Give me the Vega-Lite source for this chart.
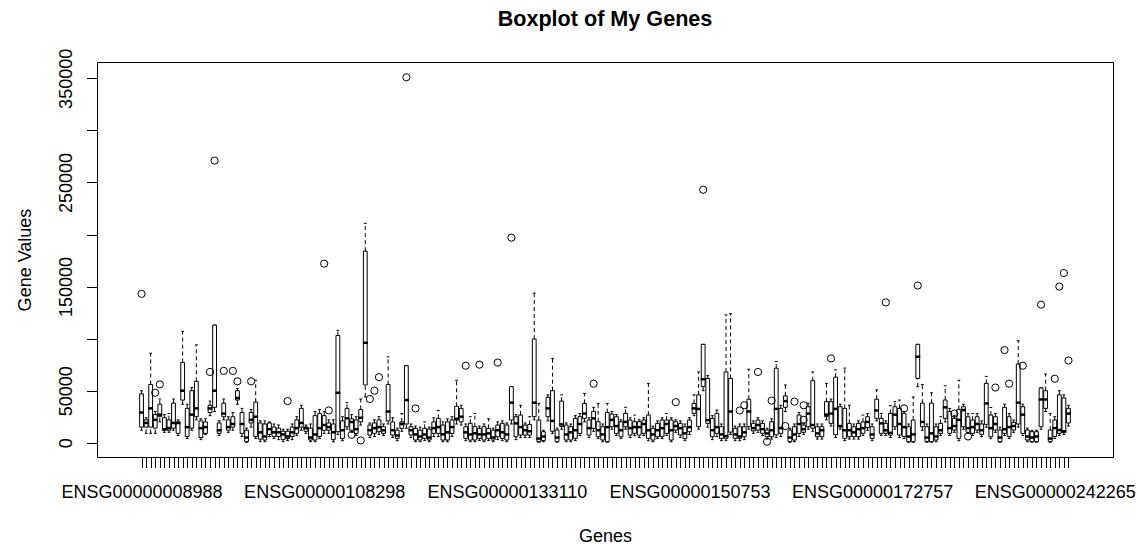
{
  "$schema": "https://vega.github.io/schema/vega-lite/v6.json",
  "width": 1016,
  "height": 395,
  "autosize": "none",
  "padding": {"left": 97, "top": 62, "right": 24, "bottom": 87},
  "background": "white",
  "title": {"text": "Boxplot of My Genes", "font": "Liberation Sans", "fontSize": 21.6, "fontWeight": "bold", "color": "black", "anchor": "middle", "frame": "group", "offset": 0, "dy": -1, "baseline": "alphabetic"},
  "config": {
    "view": {"stroke": "black", "strokeWidth": 1},
    "axis": {"grid": false, "domain": false, "tickColor": "black", "tickWidth": 1, "tickSize": 10.5, "labelFont": "Liberation Sans", "labelFontSize": 18, "labelColor": "black", "titleFont": "Liberation Sans", "titleFontSize": 18, "titleFontWeight": "normal", "titleColor": "black", "labelOverlap": false, "labelFlush": false, "labelBound": false}
  },
  "datasets": {
    "genes": [
      {"i":1,"gene":"ENSG00000008988","lo":12000,"q1":15000,"med":29000,"q3":47000,"hi":50000},
      {"i":2,"lo":9000,"q1":15000,"med":19000,"q3":22000,"hi":24000},
      {"i":3,"lo":9000,"q1":15000,"med":33000,"q3":56000,"hi":86000},
      {"i":4,"lo":9000,"q1":14000,"med":22000,"q3":27000,"hi":30000},
      {"i":5,"lo":20000,"q1":25000,"med":27000,"q3":37000,"hi":42000},
      {"i":6,"lo":10000,"q1":12000,"med":13000,"q3":24000,"hi":27000},
      {"i":7,"lo":10000,"q1":12000,"med":14000,"q3":22000,"hi":28000},
      {"i":8,"lo":12000,"q1":14000,"med":19000,"q3":38000,"hi":42000},
      {"i":9,"lo":7000,"q1":9000,"med":19000,"q3":20000,"hi":22000},
      {"i":10,"lo":37000,"q1":41000,"med":50000,"q3":77000,"hi":107000},
      {"i":11,"lo":4000,"q1":6000,"med":15000,"q3":33000,"hi":37000},
      {"i":12,"lo":12000,"q1":14000,"med":27000,"q3":50000,"hi":53000},
      {"i":13,"lo":22000,"q1":25000,"med":33000,"q3":59000,"hi":94000},
      {"i":14,"lo":3000,"q1":5000,"med":14000,"q3":21000,"hi":23000},
      {"i":15,"lo":8000,"q1":9000,"med":15000,"q3":20000,"hi":23000},
      {"i":16,"lo":26000,"q1":29000,"med":33000,"q3":36000,"hi":40000},
      {"i":17,"lo":30000,"q1":34000,"med":50000,"q3":113000,"hi":113000},
      {"i":18,"lo":7000,"q1":9000,"med":12000,"q3":19000,"hi":21000},
      {"i":19,"lo":22000,"q1":25000,"med":28000,"q3":38000,"hi":42000},
      {"i":20,"lo":10000,"q1":12000,"med":15000,"q3":22000,"hi":25000},
      {"i":21,"lo":12000,"q1":15000,"med":18000,"q3":25000,"hi":29000},
      {"i":22,"lo":37000,"q1":41000,"med":43000,"q3":50000,"hi":52000},
      {"i":23,"lo":6000,"q1":9000,"med":18000,"q3":29000,"hi":33000},
      {"i":24,"lo":500,"q1":1000,"med":5000,"q3":12000,"hi":14000},
      {"i":25,"lo":15000,"q1":19000,"med":22000,"q3":29000,"hi":32000},
      {"i":26,"lo":4000,"q1":6000,"med":25000,"q3":39000,"hi":60000},
      {"i":27,"lo":1000,"q1":3500,"med":10000,"q3":19000,"hi":21000},
      {"i":28,"lo":1000,"q1":2600,"med":6000,"q3":18000,"hi":21000},
      {"i":29,"lo":6000,"q1":8000,"med":13000,"q3":19000,"hi":20000},
      {"i":30,"lo":4000,"q1":6000,"med":10000,"q3":15000,"hi":18000},
      {"i":31,"lo":3000,"q1":6000,"med":10000,"q3":14000,"hi":17000},
      {"i":32,"lo":1000,"q1":3000,"med":8000,"q3":11000,"hi":13000},
      {"i":33,"lo":2000,"q1":4000,"med":6000,"q3":11000,"hi":13000},
      {"i":34,"lo":3000,"q1":6000,"med":10000,"q3":15000,"hi":18000},
      {"i":35,"lo":7000,"q1":9000,"med":14000,"q3":22000,"hi":25000},
      {"i":36,"lo":12000,"q1":15000,"med":19000,"q3":33000,"hi":36000},
      {"i":37,"lo":9000,"q1":11000,"med":14000,"q3":15000,"hi":17000},
      {"i":38,"lo":1000,"q1":2600,"med":5000,"q3":14000,"hi":18000},
      {"i":39,"lo":1000,"q1":2600,"med":8000,"q3":26000,"hi":30000},
      {"i":40,"lo":4000,"q1":6000,"med":14000,"q3":28000,"hi":32000},
      {"i":41,"gene":"ENSG00000108298","lo":9000,"q1":12000,"med":17000,"q3":26000,"hi":30000},
      {"i":42,"lo":9000,"q1":12000,"med":15000,"q3":19000,"hi":22000},
      {"i":43,"lo":1000,"q1":3000,"med":10000,"q3":18000,"hi":22000},
      {"i":44,"lo":8000,"q1":10600,"med":48000,"q3":103000,"hi":108000},
      {"i":45,"lo":2000,"q1":4000,"med":12000,"q3":21000,"hi":25000},
      {"i":46,"lo":13000,"q1":15400,"med":23500,"q3":33000,"hi":38500},
      {"i":47,"lo":10000,"q1":12000,"med":20000,"q3":23000,"hi":27000},
      {"i":48,"lo":7000,"q1":9000,"med":13000,"q3":22000,"hi":25000},
      {"i":49,"lo":17000,"q1":20000,"med":24000,"q3":32000,"hi":42000},
      {"i":50,"lo":44000,"q1":55500,"med":96000,"q3":184000,"hi":210700},
      {"i":51,"lo":5000,"q1":7400,"med":12000,"q3":17000,"hi":19000},
      {"i":52,"lo":6000,"q1":9000,"med":14000,"q3":19000,"hi":22000},
      {"i":53,"lo":8000,"q1":10600,"med":15000,"q3":22000,"hi":25000},
      {"i":54,"lo":7000,"q1":9000,"med":12000,"q3":15400,"hi":18000},
      {"i":55,"lo":18000,"q1":21000,"med":30000,"q3":56000,"hi":82500},
      {"i":56,"lo":5000,"q1":7400,"med":12000,"q3":20000,"hi":24000},
      {"i":57,"lo":2000,"q1":4200,"med":7000,"q3":12000,"hi":14000},
      {"i":58,"lo":11000,"q1":13800,"med":18000,"q3":20000,"hi":28000},
      {"i":59,"lo":14000,"q1":18000,"med":41000,"q3":74000,"hi":74000},
      {"i":60,"lo":5000,"q1":7400,"med":12000,"q3":15400,"hi":18000},
      {"i":61,"lo":1000,"q1":2600,"med":8000,"q3":13800,"hi":16000},
      {"i":62,"lo":1000,"q1":2600,"med":6000,"q3":12000,"hi":15000},
      {"i":63,"lo":2000,"q1":4200,"med":8000,"q3":13800,"hi":20000},
      {"i":64,"lo":1000,"q1":2600,"med":5000,"q3":13000,"hi":15000},
      {"i":65,"lo":6000,"q1":9000,"med":14000,"q3":20000,"hi":24000},
      {"i":66,"lo":6000,"q1":9000,"med":15000,"q3":23400,"hi":31000},
      {"i":67,"lo":1000,"q1":2600,"med":8000,"q3":17000,"hi":20000},
      {"i":68,"lo":1000,"q1":2600,"med":10000,"q3":20000,"hi":23000},
      {"i":69,"lo":6000,"q1":9000,"med":15000,"q3":22000,"hi":25000},
      {"i":70,"lo":18000,"q1":21800,"med":23000,"q3":35000,"hi":60000},
      {"i":71,"lo":17000,"q1":20000,"med":25000,"q3":33000,"hi":36000},
      {"i":72,"lo":2000,"q1":4200,"med":10000,"q3":15400,"hi":18000},
      {"i":73,"lo":1000,"q1":2600,"med":8000,"q3":18600,"hi":25000},
      {"i":74,"lo":1000,"q1":2600,"med":9000,"q3":15400,"hi":28000},
      {"i":75,"lo":2000,"q1":4200,"med":8000,"q3":13800,"hi":16000},
      {"i":76,"lo":1000,"q1":2600,"med":8000,"q3":15400,"hi":18000},
      {"i":77,"lo":2000,"q1":4200,"med":9000,"q3":13800,"hi":23000},
      {"i":78,"lo":1000,"q1":2600,"med":5000,"q3":12000,"hi":14000},
      {"i":79,"lo":3000,"q1":5800,"med":12000,"q3":17000,"hi":20000},
      {"i":80,"lo":2000,"q1":4200,"med":10000,"q3":18600,"hi":21000},
      {"i":81,"gene":"ENSG00000133110","lo":1000,"q1":2600,"med":8000,"q3":17000,"hi":19000},
      {"i":82,"lo":18000,"q1":21800,"med":38500,"q3":53800,"hi":53800},
      {"i":83,"lo":3000,"q1":5800,"med":18600,"q3":25000,"hi":27000},
      {"i":84,"lo":5000,"q1":7400,"med":15000,"q3":26600,"hi":36000},
      {"i":85,"lo":5000,"q1":7400,"med":12000,"q3":17000,"hi":19000},
      {"i":86,"lo":5000,"q1":7400,"med":11000,"q3":17600,"hi":25000},
      {"i":87,"lo":22000,"q1":25000,"med":38500,"q3":99600,"hi":143700},
      {"i":88,"lo":500,"q1":1000,"med":4000,"q3":21800,"hi":37800},
      {"i":89,"lo":1000,"q1":2000,"med":6000,"q3":10600,"hi":12000},
      {"i":90,"lo":21000,"q1":25000,"med":33000,"q3":43600,"hi":46000},
      {"i":91,"lo":9000,"q1":11000,"med":21000,"q3":50000,"hi":81000},
      {"i":92,"lo":500,"q1":1000,"med":5000,"q3":12200,"hi":14000},
      {"i":93,"lo":13000,"q1":15600,"med":17600,"q3":40000,"hi":46000},
      {"i":94,"lo":1000,"q1":2600,"med":8000,"q3":17000,"hi":19000},
      {"i":95,"lo":1000,"q1":2600,"med":10000,"q3":15400,"hi":18000},
      {"i":96,"lo":2000,"q1":4200,"med":12000,"q3":23400,"hi":26000},
      {"i":97,"lo":7000,"q1":9000,"med":18000,"q3":25000,"hi":28000},
      {"i":98,"lo":20000,"q1":23400,"med":28000,"q3":37800,"hi":47400},
      {"i":99,"lo":5000,"q1":7400,"med":14000,"q3":21800,"hi":24000},
      {"i":100,"lo":11000,"q1":13800,"med":23400,"q3":30000,"hi":34000},
      {"i":101,"lo":4000,"q1":5800,"med":12000,"q3":20200,"hi":37800},
      {"i":102,"lo":1000,"q1":2600,"med":8000,"q3":15400,"hi":18000},
      {"i":103,"lo":500,"q1":1000,"med":15000,"q3":29000,"hi":37800},
      {"i":104,"lo":13000,"q1":15400,"med":22000,"q3":27500,"hi":30000},
      {"i":105,"lo":7000,"q1":9000,"med":16000,"q3":25000,"hi":27000},
      {"i":106,"lo":4000,"q1":5800,"med":12000,"q3":20200,"hi":22000},
      {"i":107,"lo":13000,"q1":15400,"med":20000,"q3":28200,"hi":34000},
      {"i":108,"lo":5000,"q1":7400,"med":14000,"q3":21800,"hi":24000},
      {"i":109,"lo":7000,"q1":9000,"med":15000,"q3":20200,"hi":26500},
      {"i":110,"lo":5000,"q1":7400,"med":15000,"q3":20200,"hi":22000},
      {"i":111,"lo":7000,"q1":9000,"med":18000,"q3":21800,"hi":24000},
      {"i":112,"lo":2000,"q1":4200,"med":12000,"q3":26600,"hi":57000},
      {"i":113,"lo":1000,"q1":2600,"med":8000,"q3":13800,"hi":16000},
      {"i":114,"lo":4000,"q1":5800,"med":12000,"q3":18600,"hi":21000},
      {"i":115,"lo":4000,"q1":5800,"med":14000,"q3":21800,"hi":24000},
      {"i":116,"lo":7000,"q1":9000,"med":18000,"q3":21800,"hi":28000},
      {"i":117,"lo":1000,"q1":2600,"med":12000,"q3":21800,"hi":24000},
      {"i":118,"lo":10000,"q1":12200,"med":16000,"q3":20200,"hi":22000},
      {"i":119,"lo":5000,"q1":7400,"med":14000,"q3":18600,"hi":21000},
      {"i":120,"lo":2000,"q1":4000,"med":9000,"q3":15400,"hi":18000},
      {"i":121,"gene":"ENSG00000150753","lo":8000,"q1":10600,"med":15000,"q3":21800,"hi":24000},
      {"i":122,"lo":26000,"q1":28200,"med":33000,"q3":37800,"hi":46000},
      {"i":123,"lo":13000,"q1":15400,"med":32500,"q3":46000,"hi":68000},
      {"i":124,"lo":50000,"q1":54000,"med":61000,"q3":94500,"hi":94500},
      {"i":125,"lo":15000,"q1":18600,"med":21800,"q3":61800,"hi":64500},
      {"i":126,"lo":3000,"q1":5800,"med":12000,"q3":23400,"hi":26000},
      {"i":127,"lo":6000,"q1":9000,"med":15000,"q3":28200,"hi":31400},
      {"i":128,"lo":2000,"q1":4200,"med":8000,"q3":15400,"hi":18000},
      {"i":129,"lo":2000,"q1":4200,"med":6400,"q3":68000,"hi":122700},
      {"i":130,"lo":8000,"q1":10200,"med":30000,"q3":61800,"hi":124000},
      {"i":131,"lo":2000,"q1":4200,"med":8000,"q3":13800,"hi":16000},
      {"i":132,"lo":2000,"q1":4200,"med":6000,"q3":15400,"hi":18000},
      {"i":133,"lo":3000,"q1":5800,"med":10000,"q3":15400,"hi":18000},
      {"i":134,"lo":13000,"q1":15400,"med":30000,"q3":41800,"hi":70600},
      {"i":135,"lo":9000,"q1":11400,"med":14000,"q3":18600,"hi":21000},
      {"i":136,"lo":10000,"q1":12200,"med":17000,"q3":21800,"hi":24000},
      {"i":137,"lo":7000,"q1":9000,"med":13000,"q3":18600,"hi":21000},
      {"i":138,"lo":3500,"q1":5800,"med":9000,"q3":12200,"hi":14000},
      {"i":139,"lo":3500,"q1":5800,"med":12000,"q3":20200,"hi":23000},
      {"i":140,"lo":5000,"q1":7600,"med":32500,"q3":71600,"hi":78000},
      {"i":141,"lo":6000,"q1":9000,"med":14000,"q3":33000,"hi":36000},
      {"i":142,"lo":30000,"q1":34000,"med":40000,"q3":45000,"hi":55500},
      {"i":143,"lo":500,"q1":1000,"med":5000,"q3":12200,"hi":14000},
      {"i":144,"lo":1000,"q1":2600,"med":8000,"q3":15400,"hi":18000},
      {"i":145,"lo":6000,"q1":9000,"med":18000,"q3":26600,"hi":29000},
      {"i":146,"lo":8000,"q1":10000,"med":13000,"q3":17000,"hi":19000},
      {"i":147,"lo":13000,"q1":15400,"med":28000,"q3":34600,"hi":38000},
      {"i":148,"lo":11000,"q1":13900,"med":17000,"q3":59600,"hi":68000},
      {"i":149,"lo":3500,"q1":5800,"med":9000,"q3":15400,"hi":18000},
      {"i":150,"lo":3500,"q1":5800,"med":12000,"q3":15400,"hi":18000},
      {"i":151,"lo":22000,"q1":25000,"med":27000,"q3":39500,"hi":57000},
      {"i":152,"lo":16000,"q1":18600,"med":28000,"q3":39500,"hi":42000},
      {"i":153,"lo":5000,"q1":7600,"med":32500,"q3":63000,"hi":70000},
      {"i":154,"lo":13000,"q1":15400,"med":16000,"q3":34600,"hi":37000},
      {"i":155,"lo":2000,"q1":4200,"med":12000,"q3":33000,"hi":71700},
      {"i":156,"lo":3500,"q1":5800,"med":12000,"q3":18600,"hi":36000},
      {"i":157,"lo":3500,"q1":5800,"med":10000,"q3":15400,"hi":18000},
      {"i":158,"lo":3500,"q1":5800,"med":13000,"q3":18600,"hi":21000},
      {"i":159,"lo":7000,"q1":9000,"med":14000,"q3":20000,"hi":26600},
      {"i":160,"lo":12000,"q1":14500,"med":20000,"q3":25000,"hi":28000},
      {"i":161,"gene":"ENSG00000172757","lo":2000,"q1":4200,"med":8000,"q3":15400,"hi":18000},
      {"i":162,"lo":21000,"q1":23400,"med":31000,"q3":41800,"hi":50800},
      {"i":163,"lo":7000,"q1":9000,"med":18600,"q3":23400,"hi":28200},
      {"i":164,"lo":7000,"q1":9000,"med":12000,"q3":18600,"hi":21000},
      {"i":165,"lo":5000,"q1":7400,"med":9500,"q3":28200,"hi":35600},
      {"i":166,"lo":13000,"q1":15400,"med":27000,"q3":34600,"hi":39500},
      {"i":167,"lo":5000,"q1":7400,"med":18000,"q3":33000,"hi":41000},
      {"i":168,"lo":4000,"q1":6000,"med":15000,"q3":28200,"hi":30000},
      {"i":169,"lo":500,"q1":1000,"med":6000,"q3":15400,"hi":18000},
      {"i":170,"lo":500,"q1":1000,"med":8000,"q3":21800,"hi":44000},
      {"i":171,"lo":53800,"q1":61800,"med":82600,"q3":94500,"hi":94500},
      {"i":172,"lo":12000,"q1":15400,"med":20000,"q3":38000,"hi":56000},
      {"i":173,"lo":500,"q1":1000,"med":5000,"q3":15400,"hi":18000},
      {"i":174,"lo":500,"q1":1000,"med":9000,"q3":38000,"hi":48000},
      {"i":175,"lo":1000,"q1":2600,"med":6000,"q3":15400,"hi":18000},
      {"i":176,"lo":7000,"q1":9000,"med":12000,"q3":18600,"hi":25000},
      {"i":177,"lo":20000,"q1":23400,"med":34000,"q3":41000,"hi":54700},
      {"i":178,"lo":7000,"q1":9000,"med":14000,"q3":30000,"hi":33000},
      {"i":179,"lo":10000,"q1":12200,"med":16000,"q3":23400,"hi":26000},
      {"i":180,"lo":2000,"q1":4200,"med":22000,"q3":32000,"hi":60000},
      {"i":181,"lo":13000,"q1":15400,"med":31400,"q3":34600,"hi":37000},
      {"i":182,"lo":9000,"q1":10000,"med":14000,"q3":25000,"hi":28000},
      {"i":183,"lo":7000,"q1":9000,"med":15000,"q3":21800,"hi":28200},
      {"i":184,"lo":10000,"q1":12200,"med":18000,"q3":25000,"hi":28000},
      {"i":185,"lo":6000,"q1":8000,"med":12000,"q3":18000,"hi":21000},
      {"i":186,"lo":15000,"q1":17600,"med":37800,"q3":57000,"hi":63700},
      {"i":187,"lo":4000,"q1":5800,"med":14000,"q3":26600,"hi":33800},
      {"i":188,"lo":10000,"q1":12200,"med":18000,"q3":25000,"hi":28000},
      {"i":189,"lo":500,"q1":1000,"med":5000,"q3":12200,"hi":15000},
      {"i":190,"lo":7000,"q1":9000,"med":13000,"q3":34000,"hi":37000},
      {"i":191,"lo":4000,"q1":6000,"med":15000,"q3":25000,"hi":28000},
      {"i":192,"lo":10000,"q1":12200,"med":16000,"q3":19600,"hi":21800},
      {"i":193,"lo":15000,"q1":18000,"med":38500,"q3":75600,"hi":98000},
      {"i":194,"lo":7000,"q1":9000,"med":27000,"q3":34600,"hi":37000},
      {"i":195,"lo":1000,"q1":2600,"med":6000,"q3":12200,"hi":14000},
      {"i":196,"lo":500,"q1":1000,"med":5000,"q3":10600,"hi":12000},
      {"i":197,"lo":500,"q1":1000,"med":6000,"q3":10600,"hi":12000},
      {"i":198,"lo":13000,"q1":15400,"med":41600,"q3":52600,"hi":52600},
      {"i":199,"lo":30000,"q1":33000,"med":41600,"q3":50000,"hi":66000},
      {"i":200,"lo":500,"q1":1000,"med":4000,"q3":12200,"hi":28200},
      {"i":201,"gene":"ENSG00000242265","lo":4000,"q1":6000,"med":14000,"q3":21800,"hi":25000},
      {"i":202,"lo":7000,"q1":9000,"med":12200,"q3":46000,"hi":50000},
      {"i":203,"lo":8000,"q1":10000,"med":11000,"q3":43000,"hi":46000},
      {"i":204,"lo":16000,"q1":19000,"med":28000,"q3":33000,"hi":36000}
    ],
    "outliers": [
      {"i":1,"value":143000},{"i":4,"value":48000},{"i":5,"value":56000},{"i":16,"value":68000},
      {"i":17,"value":271000},{"i":19,"value":69000},{"i":21,"value":69000},{"i":22,"value":59000},
      {"i":25,"value":59000},{"i":33,"value":40000},{"i":41,"value":172000},{"i":42,"value":31000},
      {"i":47,"value":7600},{"i":49,"value":2200},{"i":51,"value":42000},{"i":52,"value":50000},
      {"i":53,"value":63000},{"i":59,"value":351000},{"i":61,"value":33000},{"i":72,"value":74000},
      {"i":75,"value":75000},{"i":79,"value":77000},{"i":82,"value":197000},{"i":100,"value":56700},
      {"i":118,"value":39000},{"i":124,"value":243000},{"i":132,"value":31000},{"i":133,"value":36000},
      {"i":136,"value":68000},{"i":138,"value":1000},{"i":139,"value":40500},{"i":142,"value":16000},
      {"i":144,"value":39500},{"i":146,"value":36000},{"i":146,"value":22000},{"i":152,"value":81000},
      {"i":164,"value":134800},{"i":168,"value":33000},{"i":171,"value":151000},{"i":179,"value":28000},
      {"i":182,"value":6000},{"i":188,"value":53000},{"i":190,"value":89000},{"i":191,"value":56700},
      {"i":194,"value":74000},{"i":198,"value":132600},{"i":201,"value":61500},{"i":202,"value":150000},
      {"i":203,"value":163000},{"i":204,"value":79000}
    ]
  },
  "layer": [
    {
      "data": {"name": "genes"},
      "mark": {"type": "rule", "color": "black", "strokeWidth": 1, "strokeDash": [4, 3]},
      "encoding": {
        "x": {
          "field": "i", "type": "quantitative", "title": "Genes",
          "scale": {"domain": [-7.66, 212.66], "nice": false, "zero": false},
          "axis": {
            "values": [1,2,3,4,5,6,7,8,9,10,11,12,13,14,15,16,17,18,19,20,21,22,23,24,25,26,27,28,29,30,31,32,33,34,35,36,37,38,39,40,41,42,43,44,45,46,47,48,49,50,51,52,53,54,55,56,57,58,59,60,61,62,63,64,65,66,67,68,69,70,71,72,73,74,75,76,77,78,79,80,81,82,83,84,85,86,87,88,89,90,91,92,93,94,95,96,97,98,99,100,101,102,103,104,105,106,107,108,109,110,111,112,113,114,115,116,117,118,119,120,121,122,123,124,125,126,127,128,129,130,131,132,133,134,135,136,137,138,139,140,141,142,143,144,145,146,147,148,149,150,151,152,153,154,155,156,157,158,159,160,161,162,163,164,165,166,167,168,169,170,171,172,173,174,175,176,177,178,179,180,181,182,183,184,185,186,187,188,189,190,191,192,193,194,195,196,197,198,199,200,201,202,203,204],
            "tickCount": 300,
            "labelExpr": "datum.value == 1 ? 'ENSG00000008988' : datum.value == 41 ? 'ENSG00000108298' : datum.value == 81 ? 'ENSG00000133110' : datum.value == 121 ? 'ENSG00000150753' : datum.value == 161 ? 'ENSG00000172757' : datum.value == 201 ? 'ENSG00000242265' : ''",
            "labelAngle": 0, "labelAlign": "center", "labelBaseline": "alphabetic", "labelPadding": 30,
            "titleY": 84, "titleBaseline": "alphabetic"
          }
        },
        "y": {
          "field": "lo", "type": "quantitative", "title": "Gene Values",
          "scale": {"domain": [-13700, 365700], "nice": false, "zero": false},
          "axis": {
            "values": [0, 50000, 100000, 150000, 200000, 250000, 300000, 350000],
            "tickCount": 20,
            "labelExpr": "datum.value == 0 || datum.value % 100000 == 50000 ? format(datum.value, 'd') : ''",
            "labelAngle": 270, "labelAlign": "center", "labelBaseline": "alphabetic", "labelPadding": 15.5,
            "titleX": -67, "titleY": 197.5, "titleAngle": 270, "titleAlign": "center", "titleBaseline": "alphabetic"
          }
        },
        "y2": {"field": "q1"}
      }
    },
    {
      "data": {"name": "genes"},
      "mark": {"type": "rule", "color": "black", "strokeWidth": 1, "strokeDash": [4, 3]},
      "encoding": {
        "x": {"field": "i", "type": "quantitative", "title": "Genes"},
        "y": {"field": "q3", "type": "quantitative", "title": "Gene Values"},
        "y2": {"field": "hi"}
      }
    },
    {
      "data": {"name": "genes"},
      "mark": {"type": "tick", "orient": "horizontal", "size": 2.8, "thickness": 1, "color": "black", "opacity": 1},
      "encoding": {
        "x": {"field": "i", "type": "quantitative", "title": "Genes"},
        "y": {"field": "lo", "type": "quantitative", "title": "Gene Values"}
      }
    },
    {
      "data": {"name": "genes"},
      "mark": {"type": "tick", "orient": "horizontal", "size": 2.8, "thickness": 1, "color": "black", "opacity": 1},
      "encoding": {
        "x": {"field": "i", "type": "quantitative", "title": "Genes"},
        "y": {"field": "hi", "type": "quantitative", "title": "Gene Values"}
      }
    },
    {
      "data": {"name": "genes"},
      "mark": {"type": "bar", "width": 3.8, "fill": "white", "stroke": "black", "strokeWidth": 1, "opacity": 1},
      "encoding": {
        "x": {"field": "i", "type": "quantitative", "title": "Genes"},
        "y": {"field": "q1", "type": "quantitative", "title": "Gene Values"},
        "y2": {"field": "q3"}
      }
    },
    {
      "data": {"name": "genes"},
      "mark": {"type": "tick", "orient": "horizontal", "size": 4.8, "thickness": 2.5, "color": "black", "opacity": 1},
      "encoding": {
        "x": {"field": "i", "type": "quantitative", "title": "Genes"},
        "y": {"field": "med", "type": "quantitative", "title": "Gene Values"}
      }
    },
    {
      "data": {"name": "outliers"},
      "mark": {"type": "point", "shape": "circle", "filled": false, "size": 52, "stroke": "black", "strokeWidth": 1, "opacity": 1},
      "encoding": {
        "x": {"field": "i", "type": "quantitative", "title": "Genes"},
        "y": {"field": "value", "type": "quantitative", "title": "Gene Values"}
      }
    }
  ]
}
